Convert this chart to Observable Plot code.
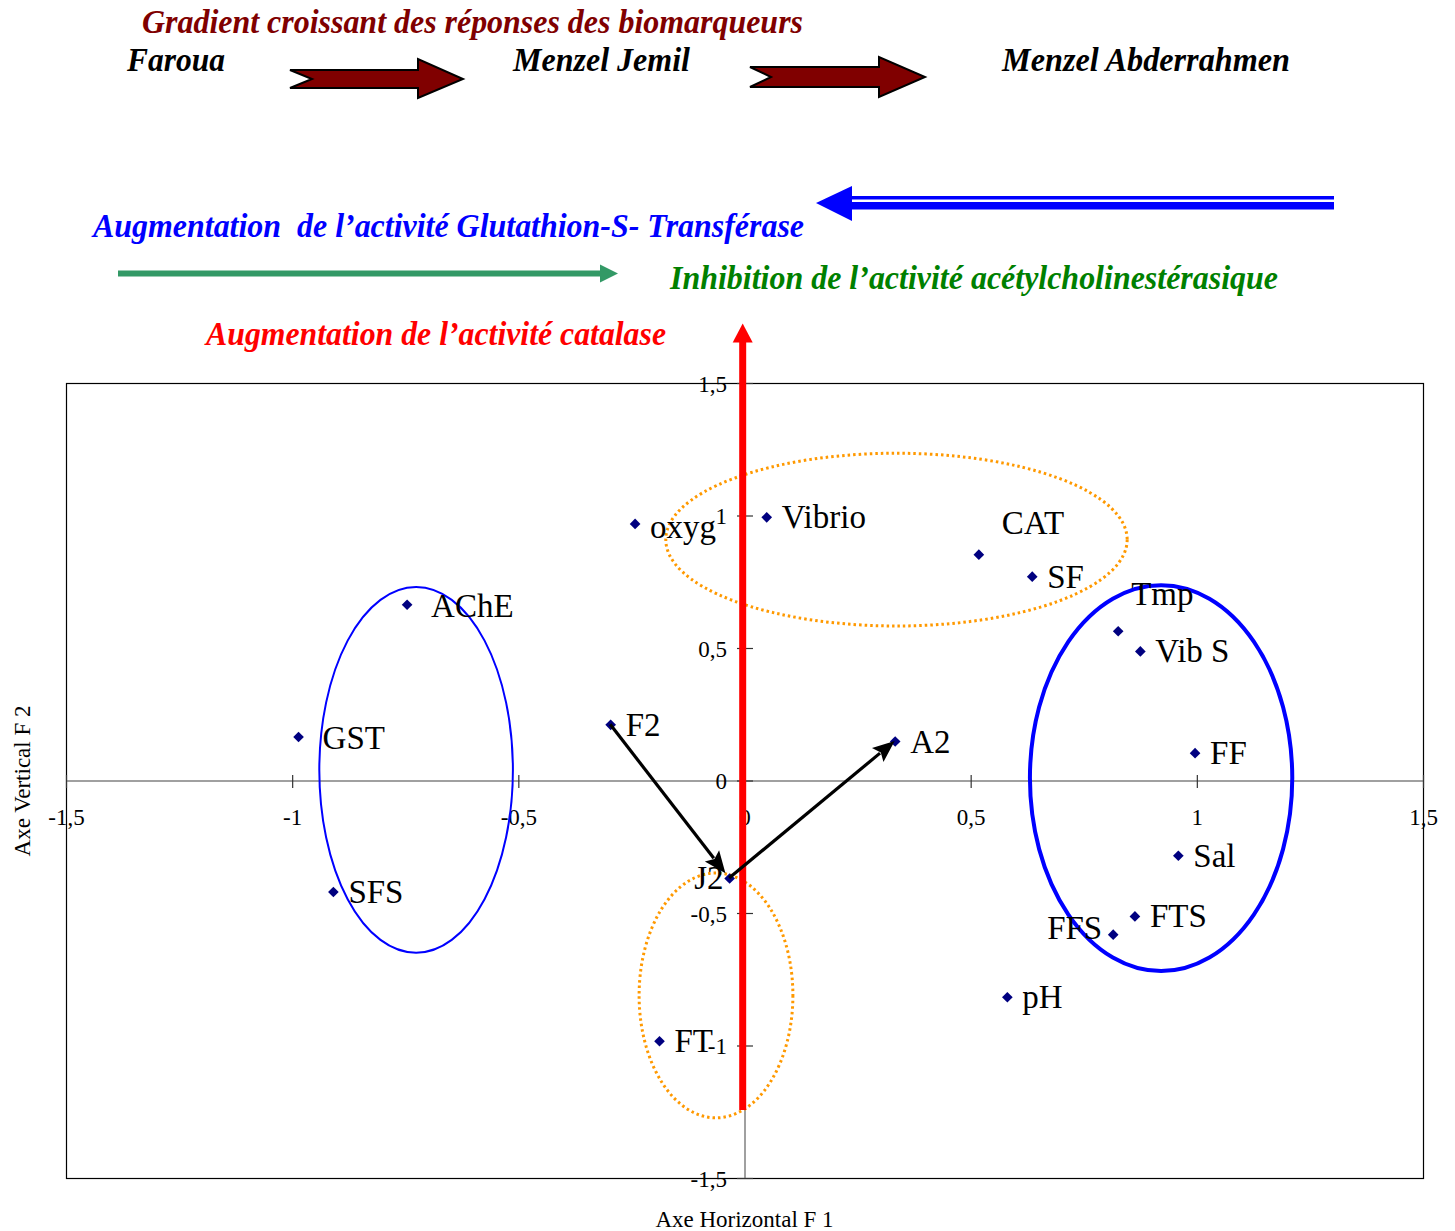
<!DOCTYPE html>
<html><head><meta charset="utf-8">
<script src="https://cdn.jsdelivr.net/npm/d3@7"></script>
<script src="https://cdn.jsdelivr.net/npm/@observablehq/plot@0.6"></script>
<style>html,body{margin:0;padding:0;background:#fff;overflow:hidden}</style>
</head><body>
<div id="chart"></div>
<script>
// ---- data (factor coordinates) ----
const labels = ["oxyg","Vibrio","CAT","SF","Tmp","Vib S","FF","Sal","FTS","FFS","pH","FT","J2","F2","A2","AChE","GST","SFS"];
const f1 = [-0.243,0.048,0.517,0.635,0.825,0.874,0.995,0.958,0.862,0.814,0.580,-0.189,-0.034,-0.297,0.332,-0.747,-0.987,-0.910];
const f2 = [0.970,0.995,0.854,0.771,0.565,0.489,0.105,-0.282,-0.511,-0.580,-0.816,-0.982,-0.368,0.212,0.149,0.665,0.166,-0.419];
const tickValues = [-1.5,-1,-0.5,0,0.5,1,1.5];
const tickLabels = ["-1,5","-1","-0,5","0","0,5","1","1,5"];
const trajectory = ["F2","J2","A2"];
// groupings drawn as ellipses (centre and radii in factor units)
const ellipseCx = [-0.726, 0.921, 0.336, -0.063];
const ellipseCy = [0.040, 0.009, 0.909, -0.811];
const ellipseRx = [0.214, 0.290, 0.510, 0.170];
const ellipseRy = [0.690, 0.728, 0.326, 0.462];
// catalase arrow along F2 (x, from, to in factor units)
const catalaseX = -0.004, catalaseFrom = -1.243, catalaseTo = 1.725;

// ---- styles ----
const SERIF = "'Liberation Serif','Times New Roman',serif";
const ellipseStyle = [
  {stroke:"#0000FF", width:2, dash:null},
  {stroke:"#0000FF", width:4, dash:null},
  {stroke:"#FF9900", width:3, dash:"2.5 3"},
  {stroke:"#FF9900", width:3, dash:"2.5 3"}
];
const labelPlacement = {CAT:[23,-31,"start"], Tmp:[13,-37,"start"], FFS:[-11,-6,"end"], J2:[-6,0,"end"],
  AChE:[24,1.5,"start"], GST:[24,1,"start"], oxyg:[15,3,"start"]};
const defaultPlacement = [15,0.5,"start"];
const trajectoryTipInset = [6, 0];

const pts = labels.map((name,i)=>({name, x:f1[i], y:f2[i]}));
const byName = Object.fromEntries(pts.map(d=>[d.name,d]));
const segments = d3.pairs(trajectory).map(([a,b],i)=>({x1:byName[a].x,y1:byName[a].y,x2:byName[b].x,y2:byName[b].y,inset:trajectoryTipInset[i]}));

const groups = d3.groups(pts, d => (labelPlacement[d.name]||defaultPlacement).join("|"));
const labelMarks = groups.map(([key, arr]) => {
  const [dx,dy,anchor] = key.split("|");
  return Plot.text(arr, {x:"x", y:"y", text:"name", dx:+dx, dy:+dy, textAnchor:anchor, fontSize:33, fill:"#000"});
});

const vTick = {draw(ctx){ctx.moveTo(0,-6);ctx.lineTo(0,7);}};
const hTick = {draw(ctx){ctx.moveTo(-8,0);ctx.lineTo(8,0);}};

function ellipseMark(index, scales){
  const g = d3.create("svg:g");
  const {x, y} = scales;
  ellipseCx.forEach((cx,i)=>{
    const st = ellipseStyle[i];
    g.append("ellipse")
      .attr("cx", x(cx)).attr("cy", y(ellipseCy[i]))
      .attr("rx", Math.abs(x(cx+ellipseRx[i])-x(cx)))
      .attr("ry", Math.abs(y(ellipseCy[i])-y(ellipseCy[i]+ellipseRy[i])))
      .attr("fill","none").attr("stroke", st.stroke).attr("stroke-width", st.width)
      .attr("stroke-dasharray", st.dash);
  });
  return g.node();
}
function catalaseMark(index, scales){
  const g = d3.create("svg:g");
  const {x, y} = scales;
  const px = x(catalaseX), yb = y(catalaseFrom), yt = y(catalaseTo);
  const L = 19, W = 10;
  g.append("line").attr("x1",px).attr("x2",px).attr("y1",yb).attr("y2",yt+L-1)
    .attr("stroke","#FF0000").attr("stroke-width",7);
  g.append("polygon").attr("points",`${px},${yt} ${px-W},${yt+L} ${px+W},${yt+L}`).attr("fill","#FF0000");
  return g.node();
}
function trajectoryMark(index, scales){
  const g = d3.create("svg:g");
  const {x, y} = scales;
  segments.forEach(s=>{
    const ax=x(s.x1), ay=y(s.y1), bx=x(s.x2), by=y(s.y2);
    const len=Math.hypot(bx-ax,by-ay), ux=(bx-ax)/len, uy=(by-ay)/len;
    const tx=bx-ux*s.inset, ty=by-uy*s.inset;
    const L=22, W=9;
    const basex=tx-ux*L, basey=ty-uy*L;
    g.append("line").attr("x1",ax).attr("y1",ay).attr("x2",basex+ux*3).attr("y2",basey+uy*3)
      .attr("stroke","#000").attr("stroke-width",3.2);
    g.append("polygon").attr("points",
      `${tx},${ty} ${basex-uy*W},${basey+ux*W} ${basex+ux*4},${basey+uy*4} ${basex+uy*W},${basey-ux*W}`)
      .attr("fill","#000");
  });
  return g.node();
}

const chart = Plot.plot({
  width:1455, height:1231,
  marginTop:383, marginRight:32, marginBottom:53, marginLeft:66,
  x:{domain:[-1.5,1.5], axis:null},
  y:{domain:[-1.5,1.5], axis:null},
  style:{fontFamily:SERIF, background:"#fff", overflow:"visible", color:"#000"},
  marks:[
    Plot.frame({stroke:"#000", strokeWidth:1.2}),
    Plot.ruleY([0], {stroke:"#808080", strokeWidth:1.5}),
    Plot.ruleX([0], {stroke:"#808080", strokeWidth:1.5}),
    Plot.dot(tickValues, {x:d=>d, y:0, symbol:vTick, r:6, stroke:"#333", fill:"none", strokeWidth:1.2}),
    Plot.dot(tickValues, {x:0, y:d=>d, symbol:hTick, r:6, stroke:"#333", fill:"none", strokeWidth:1.2}),
    Plot.text(tickValues, {x:d=>d, y:0, text:(d,i)=>tickLabels[i], dy:37, fontSize:23, fill:"#000"}),
    Plot.text(tickValues, {x:0, y:d=>d, text:(d,i)=>tickLabels[i], dx:-18, dy:1, textAnchor:"end", fontSize:23, fill:"#000"}),
    ellipseMark,
    Plot.dot(pts, {x:"x", y:"y", symbol:"diamond2", r:4.8, fill:"#000080"}),
    ...labelMarks,
    catalaseMark,
    trajectoryMark
  ]
});
document.getElementById("chart").appendChild(chart);

// ---- header annotations and axis titles ----
const svg = d3.select(chart);
const ann = svg.append("g").attr("font-family", SERIF).attr("text-anchor","start");
const headerTexts = [
  {t:"Gradient croissant des réponses des biomarqueurs", x:142, y:33, w:661, c:"#800000"},
  {t:"Faroua", x:127, y:71, w:98, c:"#000"},
  {t:"Menzel Jemil", x:513, y:71, w:177, c:"#000"},
  {t:"Menzel Abderrahmen", x:1002, y:71, w:288, c:"#000"},
  {t:"Augmentation  de l’activité Glutathion-S- Transférase", x:93, y:237, w:711, c:"#0000FF"},
  {t:"Inhibition de l’activité acétylcholinestérasique", x:670, y:289, w:608, c:"#008000"},
  {t:"Augmentation de l’activité catalase", x:206, y:345, w:460, c:"#FF0000"}
];
headerTexts.forEach(h=>{
  ann.append("text").attr("x",h.x).attr("y",h.y).attr("fill",h.c)
    .attr("text-anchor","start")
    .attr("font-size",34).attr("font-weight","bold").attr("font-style","italic")
    .attr("textLength",h.w).attr("lengthAdjust","spacingAndGlyphs")
    .style("white-space","pre").text(h.t);
});
// dark red block arrows
[[290,70,418,59,463,79,88,98,312],[750,67,879,57,925,77,87,97,771]].forEach(a=>{
  const [x0,yt,hb,ht,tip,ty,yb,hbb,notch]=a;
  ann.append("polygon")
    .attr("points",`${x0},${yt} ${hb},${yt} ${hb},${ht} ${tip},${ty} ${hb},${hbb} ${hb},${yb} ${x0},${yb} ${notch},${ty}`)
    .attr("fill","#800000").attr("stroke","#000").attr("stroke-width",2).attr("stroke-linejoin","miter");
});
// blue double arrow (GST)
ann.append("polygon").attr("points","816,203 852,186 852,221").attr("fill","#0000FF");
ann.append("rect").attr("x",850).attr("y",196).attr("width",484).attr("height",3.5).attr("fill","#0000FF");
ann.append("rect").attr("x",850).attr("y",202).attr("width",484).attr("height",7.5).attr("fill","#0000FF");
// green arrow (AChE)
ann.append("line").attr("x1",118).attr("x2",602).attr("y1",273.5).attr("y2",273.5).attr("stroke","#339966").attr("stroke-width",6);
ann.append("polygon").attr("points","600,264.5 618,273.5 600,282.5").attr("fill","#339966");
// axis titles
ann.append("text").attr("x",744.5).attr("y",1227).attr("text-anchor","middle").attr("font-size",23).attr("fill","#000").text("Axe Horizontal F 1");
ann.append("text").attr("transform","translate(30,781) rotate(-90)").attr("text-anchor","middle").attr("font-size",23).attr("fill","#000").text("Axe Vertical F 2");
</script>
</body></html>
